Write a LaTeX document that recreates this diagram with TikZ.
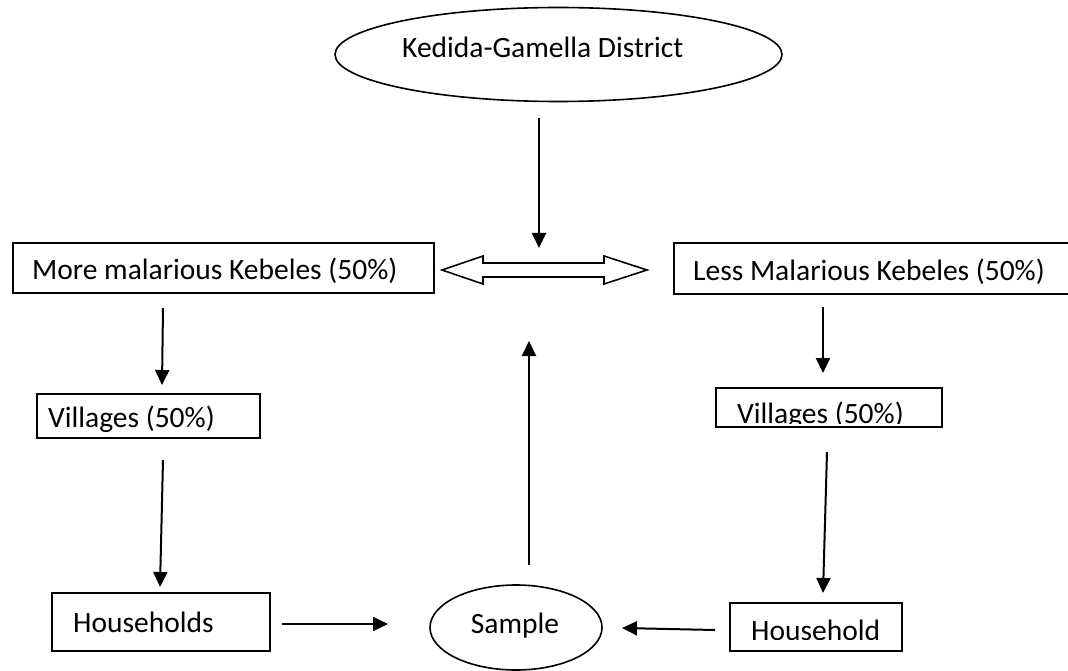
\documentclass[tikz,border=0pt]{standalone}
\usepackage{fontspec}
\setmainfont{Carlito}
\usetikzlibrary{arrows.meta,shapes.geometric}
\begin{document}
\begin{tikzpicture}[x=1pt,y=-1pt,
  boxnode/.style={draw, line width=2pt, rectangle, inner sep=0pt, anchor=north west},
  txt/.style={font=\fontsize{29.5}{34}\selectfont, inner sep=0pt, anchor=base west},
  ell/.style={draw, line width=1.6pt, ellipse, inner sep=0pt},
  arr/.style={line width=2pt, -{Triangle[length=15pt,width=14pt]}},
  hollow/.style={draw, line width=1.6pt, fill=white, line join=miter}]
\clip (0,0) rectangle (1068,671);
\fill[white] (0,0) rectangle (1068,671);

% top ellipse
\node[ell, minimum width=447pt, minimum height=94pt] (dist) at (558.5,54.5) {};
\node[txt] (distT) at (402,58) {Kedida-Gamella District};

% boxes
\node[boxnode, minimum width=421pt, minimum height=50pt] (more) at (12,242) {};
\node[txt] (moreT) at (32,279) {More malarious Kebeles (50\%)};

\node[boxnode, minimum width=400pt, minimum height=51pt] (less) at (673,242) {};
\node[txt] (lessT) at (693,280) {Less Malarious Kebeles (50\%)};

\node[boxnode, minimum width=223pt, minimum height=44pt] (villL) at (36,393) {};
\node[txt] (villLT) at (48,427) {Villages (50\%)};

\node[boxnode, minimum width=226pt, minimum height=39pt] (villR) at (715,387) {};
\begin{scope}
  \clip (715,387) rectangle (941,423.5);
  \node[txt] (villRT) at (737,423.5) {Villages (50\%)};
\end{scope}

\node[boxnode, minimum width=218pt, minimum height=58pt] (hhL) at (51,592) {};
\node[txt] (hhLT) at (73,632) {Households};

\node[boxnode, minimum width=172pt, minimum height=48pt] (hhR) at (729,602) {};
\begin{scope}
  \clip (729,602) rectangle (901,639);
  \node[txt] (hhRT) at (751,640) {Household};
\end{scope}

% sample ellipse
\node[ell, minimum width=172pt, minimum height=85pt] (sample) at (516,627.5) {};
\node[txt, anchor=base] (sampleT) at (515,633) {Sample};

% double hollow arrow
\draw[hollow] (442,270) -- (483,256) -- (483,263) -- (604,263) -- (604,256)
  -- (647,270) -- (604,284) -- (604,277) -- (483,277) -- (483,284) -- cycle;

% connector end points
\coordinate (a1s) at (539,118);  \coordinate (a1e) at (539,248);
\coordinate (a2s) at (163,308);  \coordinate (a2e) at (162,385);
\coordinate (a3s) at (163,460);  \coordinate (a3e) at (160,587);
\coordinate (a4s) at (282,624);  \coordinate (a4e) at (388,624);
\coordinate (a5s) at (529,565);  \coordinate (a5e) at (529,341);
\coordinate (a6s) at (823,307);  \coordinate (a6e) at (823,373);
\coordinate (a7s) at (827,452);  \coordinate (a7e) at (823,593);
\coordinate (a8s) at (715,630);  \coordinate (a8e) at (622,628);

\draw[arr] (a1s) -- (a1e);
\draw[arr] (a2s) -- (a2e);
\draw[arr] (a3s) -- (a3e);
\draw[arr] (a4s) -- (a4e);
\draw[arr] (a5s) -- (a5e);
\draw[arr] (a6s) -- (a6e);
\draw[arr] (a7s) -- (a7e);
\draw[arr] (a8s) -- (a8e);
\end{tikzpicture}
\end{document}
